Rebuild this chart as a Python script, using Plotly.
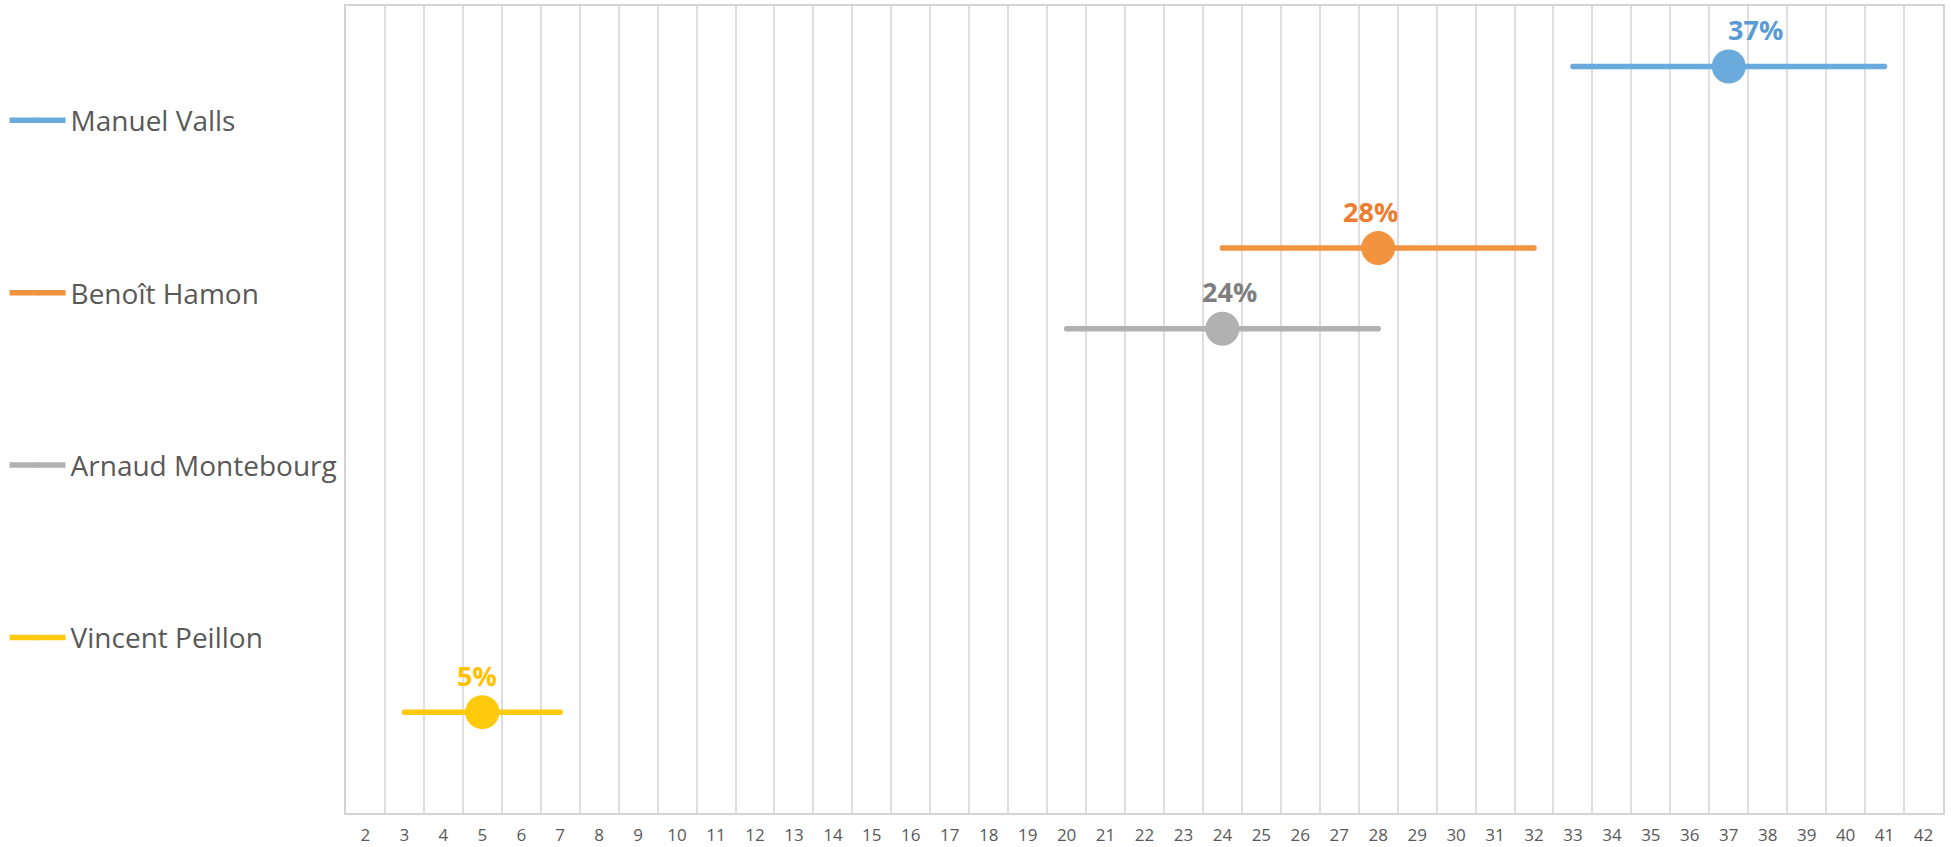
import plotly.graph_objects as go

# ---- data ----
candidates = ["Manuel Valls", "Benoît Hamon", "Arnaud Montebourg", "Vincent Peillon"]
scores = [37, 28, 24, 5]          # central estimate (%)
margins = [4, 4, 4, 2]            # +/- range
rows = [0.925, 0.70, 0.60, 0.125] # vertical value of each row
tick_labels = list(range(2, 43))

# ---- style ----
line_colors = ["#6AAADD", "#F29340", "#B1B1B1", "#FFC90C"]
label_colors = ["#5B9BD5", "#ED7D31", "#7F7F7F", "#FFC000"]
label_xshift = [27, -8, 7, -5]

fig = go.Figure()
for i, name in enumerate(candidates):
    lo, hi = scores[i] - margins[i], scores[i] + margins[i]
    fig.add_trace(go.Scatter(
        x=[lo, hi], y=[rows[i], rows[i]], mode="lines+markers", name=name,
        legendgroup=name,
        line=dict(color=line_colors[i], width=5.5),
        marker=dict(size=5.5, color=line_colors[i]),
        hoverinfo="skip"))
for i, name in enumerate(candidates):
    fig.add_trace(go.Scatter(
        x=[scores[i]], y=[rows[i]], mode="markers", showlegend=False,
        marker=dict(size=34, color=line_colors[i], line=dict(width=0))))
    fig.add_annotation(x=scores[i], y=rows[i], text=f"<b>{scores[i]}%</b>",
                       showarrow=False, yshift=37, xshift=label_xshift[i],
                       font=dict(family="Open Sans", size=27, color=label_colors[i]))

fig.update_layout(
    width=1951, height=847,
    margin=dict(l=345.5, r=8.3, t=5.5, b=34, autoexpand=False),
    paper_bgcolor="white", plot_bgcolor="white",
    showlegend=True,
    legend=dict(x=-0.2138, xanchor="left", y=0.889, yanchor="top",
                font=dict(family="Open Sans", size=28, color="#595959"),
                tracegroupgap=133, itemwidth=56, bgcolor="rgba(0,0,0,0)"),
    xaxis=dict(range=[1.5, 42.5], tickmode="array", tickvals=tick_labels,
               ticktext=[str(t) for t in tick_labels], showgrid=False,
               zeroline=False, showline=True, mirror=True, linecolor="#D4D4D4", linewidth=2,
               ticks="", ticklabelstandoff=6,
               tickfont=dict(family="Liberation Sans Narrow, Open Sans", size=17, color="#595959"),
               minor=dict(tick0=1.5, dtick=1, showgrid=True, gridcolor="#DEDEDE", gridwidth=2)),
    yaxis=dict(range=[0, 1], showgrid=False, zeroline=False, showticklabels=False,
               showline=True, mirror=True, linecolor="#D4D4D4", linewidth=2),
)

fig.write_html("out.html", config={"displayModeBar": False},
               post_script="document.body.style.margin='0';")
